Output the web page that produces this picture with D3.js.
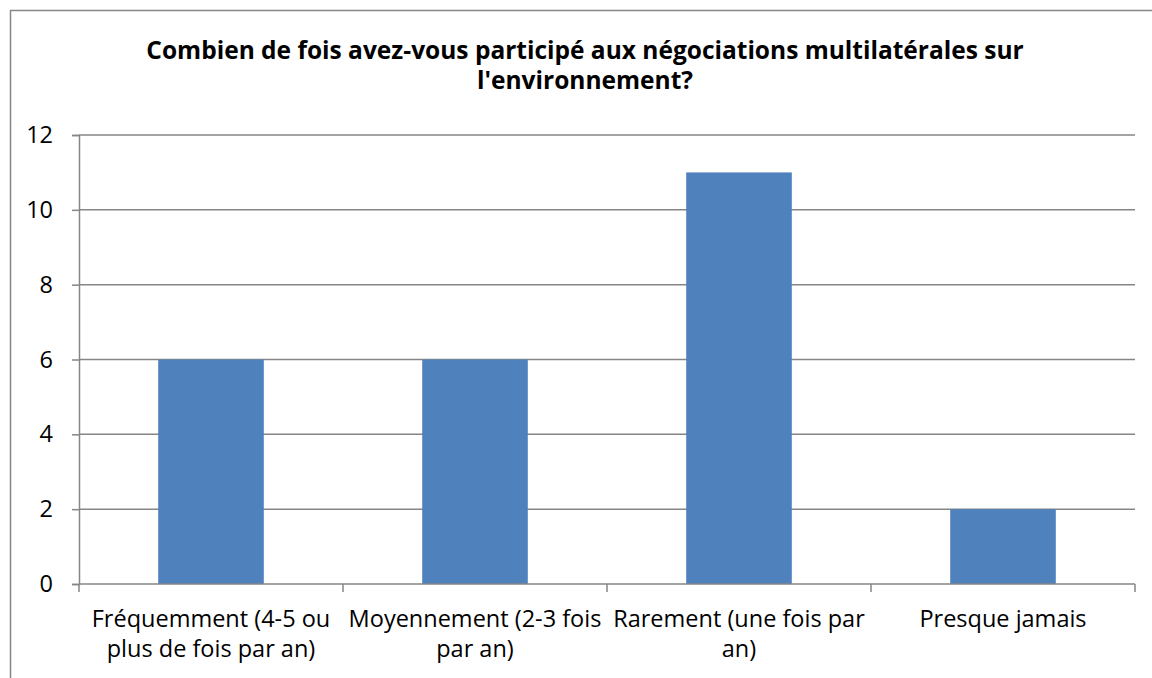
<!DOCTYPE html>
<html>
<head>
<meta charset="utf-8">
<script src="https://cdn.jsdelivr.net/npm/d3@7"></script>
<style>
  body { margin: 0; background: #fff; }
  .vis { width: 1152px; height: 678px; }
  text { font-family: "Open Sans", "Noto Sans", sans-serif; fill: #000; }
</style>
</head>
<body>
<div class="vis"></div>
<script>
(function() {
  'use strict';

  var title = ["Combien de fois avez-vous participé aux négociations multilatérales sur", "l'environnement?"];
  var categories = [
    "Fréquemment (4-5 ou plus de fois par an)",
    "Moyennement (2-3 fois par an)",
    "Rarement (une fois par an)",
    "Presque jamais"
  ];
  var values = [6, 6, 11, 2];
  var yTicks = [0, 2, 4, 6, 8, 10, 12];

  var el = d3.select('.vis'),
    elWidth = 1152,
    elHeight = 678,
    margin = {top: 135, right: 17, bottom: 94, left: 79},
    width = elWidth - margin.left - margin.right,
    height = elHeight - margin.top - margin.bottom;

  var root = el.append("svg")
      .attr("width", elWidth)
      .attr("height", elHeight);

  // outer frame (runs off the right/bottom edge like the original)
  root.append("rect")
      .attr("x", 10.5)
      .attr("y", 10.5)
      .attr("width", 1200)
      .attr("height", 800)
      .attr("fill", "none")
      .attr("stroke", "#868686")
      .attr("stroke-width", 1.5);

  root.append("text")
      .attr("x", 585)
      .attr("y", 59)
      .attr("text-anchor", "middle")
      .style("font-weight", "bold")
      .style("font-size", "24.5px")
      .selectAll("tspan")
      .data(title)
      .enter()
    .append("tspan")
      .attr("x", 585)
      .attr("dy", function(d, i) { return i === 0 ? 0 : 30; })
      .text(function(d) { return d; });

  var svg = root.append("g")
      .attr("transform", "translate(" + margin.left + "," + margin.top + ")");

  var x = d3.scaleBand()
      .domain(categories)
      .range([0, width])
      .paddingInner(0.6)
      .paddingOuter(0.3);

  var y = d3.scaleLinear()
      .domain([0, 12])
      .range([height, 0]);

  // gridlines
  svg.selectAll('.grid')
    .data(yTicks.slice(1))
    .enter()
    .append('line')
      .attr('class', 'grid')
      .attr('x1', 0)
      .attr('x2', width)
      .attr('y1', function(d) { return y(d); })
      .attr('y2', function(d) { return y(d); })
      .attr('stroke', '#868686')
      .attr('stroke-width', 1.5);

  svg.selectAll('.bar')
    .data(values)
    .enter()
    .append('rect')
      .attr('class', 'bar')
      .attr('x', function(d, i) { return x(categories[i]); })
      .attr('width', x.bandwidth())
      .attr('y', function(d) { return y(d); })
      .attr('height', function(d) { return height - y(d); })
      .attr('fill', '#4F81BD');

  // y axis
  var yAxis = svg.append('g')
      .call(d3.axisLeft(y).tickValues(yTicks).tickSize(7).tickPadding(19));
  yAxis.selectAll('line, path').attr('stroke', '#868686').attr('stroke-width', 1.5);
  yAxis.selectAll('text')
      .style('font-size', '23.5px')
      .style('font-family', '"Open Sans", sans-serif')
      .attr('fill', '#000');

  // x axis: ticks on category boundaries
  var xAxis = svg.append('g')
      .attr('transform', 'translate(0,' + height + ')');
  xAxis.append('line')
      .attr('x1', 0).attr('x2', width)
      .attr('stroke', '#868686').attr('stroke-width', 1.5);
  xAxis.selectAll('.xtick')
    .data(d3.range(categories.length + 1))
    .enter()
    .append('line')
      .attr('x1', function(d) { return d * x.step(); })
      .attr('x2', function(d) { return d * x.step(); })
      .attr('y1', 0).attr('y2', 8)
      .attr('stroke', '#868686').attr('stroke-width', 1.5);

  var labels = xAxis.selectAll('.xlabel')
    .data(categories)
    .enter()
    .append('text')
      .attr('class', 'xlabel')
      .attr('text-anchor', 'middle')
      .attr('x', function(d) { return x(d) + x.bandwidth() / 2; })
      .attr('y', 43)
      .style('font-size', '23.5px')
      .text(function(d) { return d; });

  labels.each(function(d) {
    var t = d3.select(this),
      words = d.split(/\s+/),
      cx = t.attr('x'),
      line = [],
      tspan = t.text(null).append('tspan').attr('x', cx).attr('dy', 0);
    words.forEach(function(w) {
      line.push(w);
      tspan.text(line.join(' '));
      if (tspan.node().getComputedTextLength() > 262 && line.length > 1) {
        line.pop();
        tspan.text(line.join(' '));
        line = [w];
        tspan = t.append('tspan').attr('x', cx).attr('dy', 30).text(w);
      }
    });
  });
}());
</script>
</body>
</html>
